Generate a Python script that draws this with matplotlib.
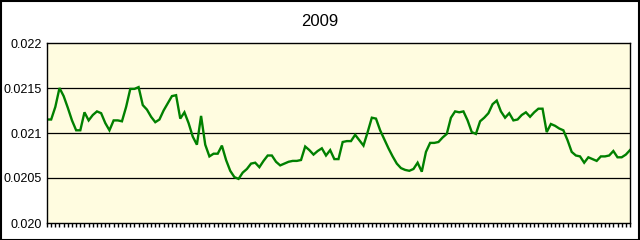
import numpy as np
import matplotlib
matplotlib.use("Agg")
import matplotlib.pyplot as plt
from matplotlib.patches import Rectangle

plt.rcParams['font.family'] = ['Liberation Sans', 'DejaVu Sans']

titulo = "2009"

# valores, un punto por categoria
valores = [
    0.02115, 0.02115, 0.02129, 0.02150, 0.02141, 0.02128, 0.02114, 0.02103, 0.02103, 0.02123,
    0.02114, 0.02120, 0.02124, 0.02122, 0.02111, 0.02103, 0.02114, 0.02114, 0.02113, 0.02129,
    0.02149, 0.02149, 0.02151, 0.02131, 0.02126, 0.02118, 0.02112, 0.02115, 0.02125, 0.02133,
    0.02141, 0.02142, 0.02116, 0.02123, 0.02111, 0.02096, 0.02087, 0.02119, 0.02087, 0.02074,
    0.02077, 0.02077, 0.02086, 0.02070, 0.02058, 0.02051, 0.02049, 0.02056, 0.02060, 0.02066,
    0.02067, 0.02062, 0.02069, 0.02075, 0.02075, 0.02068, 0.02064, 0.02066, 0.02068, 0.02069,
    0.02069, 0.02070, 0.02085, 0.02081, 0.02076, 0.02080, 0.02083, 0.02075, 0.02081, 0.02071,
    0.02071, 0.02090, 0.02091, 0.02091, 0.02098, 0.02092, 0.02086, 0.02101, 0.02117, 0.02116,
    0.02103, 0.02093, 0.02083, 0.02074, 0.02066, 0.02061, 0.02059, 0.02058, 0.02060, 0.02067,
    0.02057, 0.02079, 0.02089, 0.02089, 0.02090, 0.02095, 0.02099, 0.02117, 0.02124, 0.02123,
    0.02124, 0.02114, 0.02101, 0.02099, 0.02113, 0.02117, 0.02122, 0.02132, 0.02136, 0.02124,
    0.02117, 0.02122, 0.02114, 0.02115, 0.02120, 0.02123, 0.02118, 0.02123, 0.02127, 0.02127,
    0.02101, 0.02110, 0.02108, 0.02105, 0.02103, 0.02092, 0.02079, 0.02075, 0.02074, 0.02067,
    0.02073, 0.02071, 0.02069, 0.02074, 0.02074, 0.02075, 0.02080, 0.02073, 0.02073, 0.02076,
    0.02081,
]

ticks_y = [0.020, 0.0205, 0.021, 0.0215, 0.022]
etiquetas_y = ["0.020", "0.0205", "0.021", "0.0215", "0.022"]

fig = plt.figure(figsize=(6.4, 2.4), dpi=100)
ax = fig.add_axes([47 / 640, 17 / 240, 583 / 640, 180 / 240])

x = np.arange(len(valores))
ax.plot(x, valores, color='#008000', lw=1.7, solid_joinstyle='miter')

ax.set_facecolor('#FFFCE0')
ax.set_xlim(0, len(valores) - 1)
ax.set_ylim(0.020, 0.022)

ax.set_yticks(ticks_y)
ax.set_yticklabels(etiquetas_y, fontsize=9)
ax.tick_params(axis='y', length=0, pad=4)

ax.set_xticks(x)
ax.set_xticklabels([])
ax.tick_params(axis='x', length=3, width=1, direction='out', color='black')

for v in ticks_y[1:-1]:
    ax.axhline(v, color='black', lw=0.9, zorder=1)

for s in ax.spines.values():
    s.set_color('black')
    s.set_linewidth(1)

fig.text(0.5, 1 - 21 / 240, titulo, ha='center', va='center', fontsize=12)

# marco exterior
fig.patches.append(Rectangle((0.001, 0.002), 0.997, 0.995, transform=fig.transFigure,
                             fill=False, edgecolor='black', lw=1.5))

fig.savefig("out.png", dpi=100)
